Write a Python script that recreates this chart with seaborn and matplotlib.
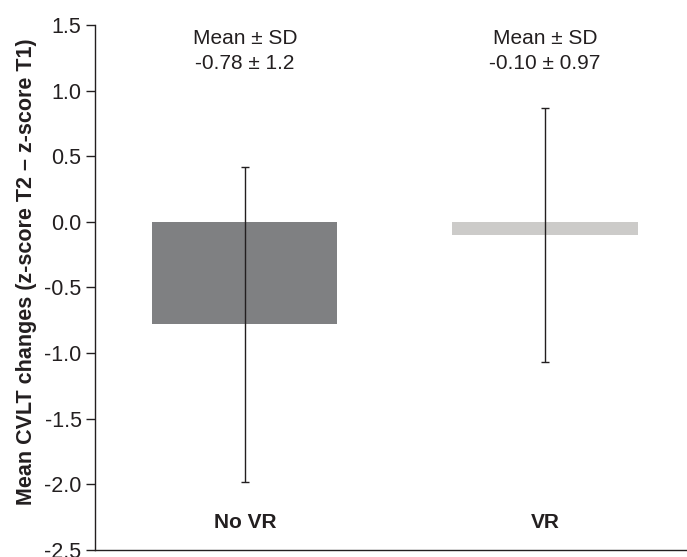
import seaborn as sns
import matplotlib.pyplot as plt
import pandas as pd

# Data
groups = ['No VR', 'VR']
means = [-0.78, -0.10]
sds = [1.2, 0.97]
bar_colors = ['#7f8082', '#cccbc9']
y_ticks = [-2.5, -2.0, -1.5, -1.0, -0.5, 0.0, 0.5, 1.0, 1.5]

df = pd.DataFrame({'group': groups, 'mean': means, 'sd': sds})

sns.set_style('white')
plt.rcParams['font.family'] = ['Liberation Sans', 'DejaVu Sans']

fig = plt.figure(figsize=(6.87, 5.57), dpi=100)
ax = fig.add_axes([0.138, 0.0126, 0.862, 0.9425])

sns.barplot(data=df, x='group', y='mean', hue='group', palette=bar_colors,
            width=0.617, errorbar=None, legend=False, ax=ax, linewidth=0)
ax.errorbar(x=range(len(groups)), y=df['mean'], yerr=df['sd'], fmt='none',
            ecolor='#231f20', elinewidth=1.0, capsize=3, capthick=1.0)

# Mean +/- SD annotations and group labels inside the axes
for i, (m, s) in enumerate(zip(means, sds)):
    ax.text(i, 1.40, 'Mean \u00b1 SD', ha='center', va='center', fontsize=15, color='#231f20')
    s_txt = f'{s:.2f}' if s < 1 else f'{s:.1f}'
    ax.text(i, 1.21, f'{m:.2f} \u00b1 {s_txt}', ha='center', va='center', fontsize=15, color='#231f20')
    ax.text(i, -2.287, groups[i], ha='center', va='center', fontsize=15,
            fontweight='bold', color='#231f20')

ax.set_xlim(-0.5, 1.473)
ax.set_ylim(-2.5, 1.5)
ax.set_yticks(y_ticks)
ax.set_yticklabels([f'{t:.1f}' for t in y_ticks], fontsize=15.5, color='#231f20')
ax.set_xticks([])
ax.set_xlabel('')
ax.set_ylabel('Mean CVLT changes (z-score T2 \u2013 z-score T1)', fontsize=15.5,
              fontweight='bold', color='#231f20')
ax.yaxis.set_label_coords(-0.0975, 0.53)
ax.tick_params(axis='y', direction='out', length=6.5, width=1.0, color='#231f20', left=True, pad=3)

sns.despine(ax=ax)
for sp in ['left', 'bottom']:
    ax.spines[sp].set_color('#231f20')
    ax.spines[sp].set_linewidth(1.0)

fig.savefig('out.png', dpi=100)
